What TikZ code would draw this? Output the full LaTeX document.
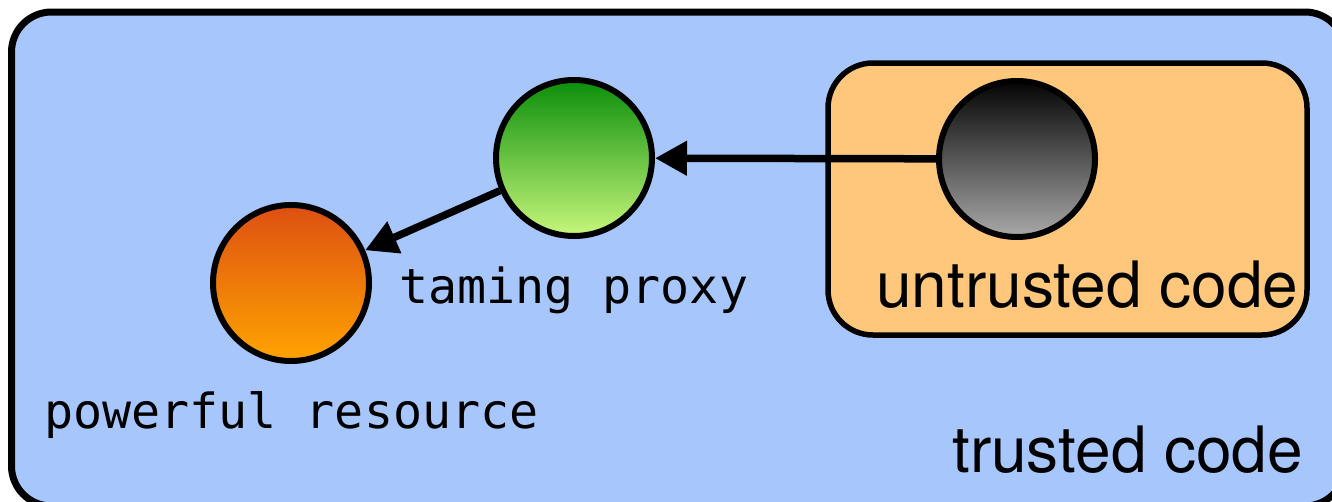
\documentclass[tikz,border=0pt]{standalone}
\usepackage{fontspec}
\setmonofont{DejaVu Sans Mono}
\setsansfont{TeX Gyre Heros}
\usetikzlibrary{arrows.meta}
\definecolor{trustblue}{HTML}{A7C6FC}
\definecolor{sandbox}{HTML}{FEC77B}
\definecolor{greentop}{HTML}{0A8E0A}
\definecolor{greenbot}{HTML}{C8F77C}
\definecolor{orangetop}{HTML}{DD4F12}
\definecolor{orangebot}{HTML}{FFA400}
\definecolor{greytop}{HTML}{040404}
\definecolor{greybot}{HTML}{A9A9A9}
\tikzset{
  ball/.style={circle, draw=black, line width=6pt, minimum size=156pt, inner sep=0pt},
  link/.style={line width=7.5pt, -{Triangle[length=32pt,width=33pt]}},
  monolabel/.style={anchor=base west, inner sep=0pt, font=\ttfamily\fontsize{48.3}{50}\selectfont},
  sanslabel/.style={anchor=base west, inner sep=0pt, font=\sffamily\fontsize{64}{66}\selectfont},
}
\begin{document}
\begin{tikzpicture}[x=1pt,y=-1pt]
\useasboundingbox (0,0) rectangle (1332,501);
% trusted area, running off the right and bottom edges
\begin{scope}
  \clip (0,0) rectangle (1332,501);
  \draw[fill=trustblue, line width=7pt, rounded corners=40pt] (11.5,12) rectangle (1345,506);
\end{scope}
% untrusted sandbox
\draw[fill=sandbox, line width=5.5pt, rounded corners=45pt] (828,63) rectangle (1307,335);

\node[ball, top color=greentop, bottom color=greenbot] (proxy) at (574,158) {};
\node[ball, top color=orangetop, bottom color=orangebot] (resource) at (291,283) {};
\node[ball, top color=greytop, bottom color=greybot] (guest) at (1017,159) {};

\draw[link] (guest) -- (proxy);
\draw[link] (proxy) -- (resource);

\node[monolabel] (proxylabel) at (399,303) {taming proxy};
\node[monolabel] (resourcelabel) at (44,428) {powerful resource};
\node[sanslabel] (guestlabel) at (876,307) {untrusted code};
\node[sanslabel] (hostlabel) at (952,472) {trusted code};
\end{tikzpicture}
\end{document}
